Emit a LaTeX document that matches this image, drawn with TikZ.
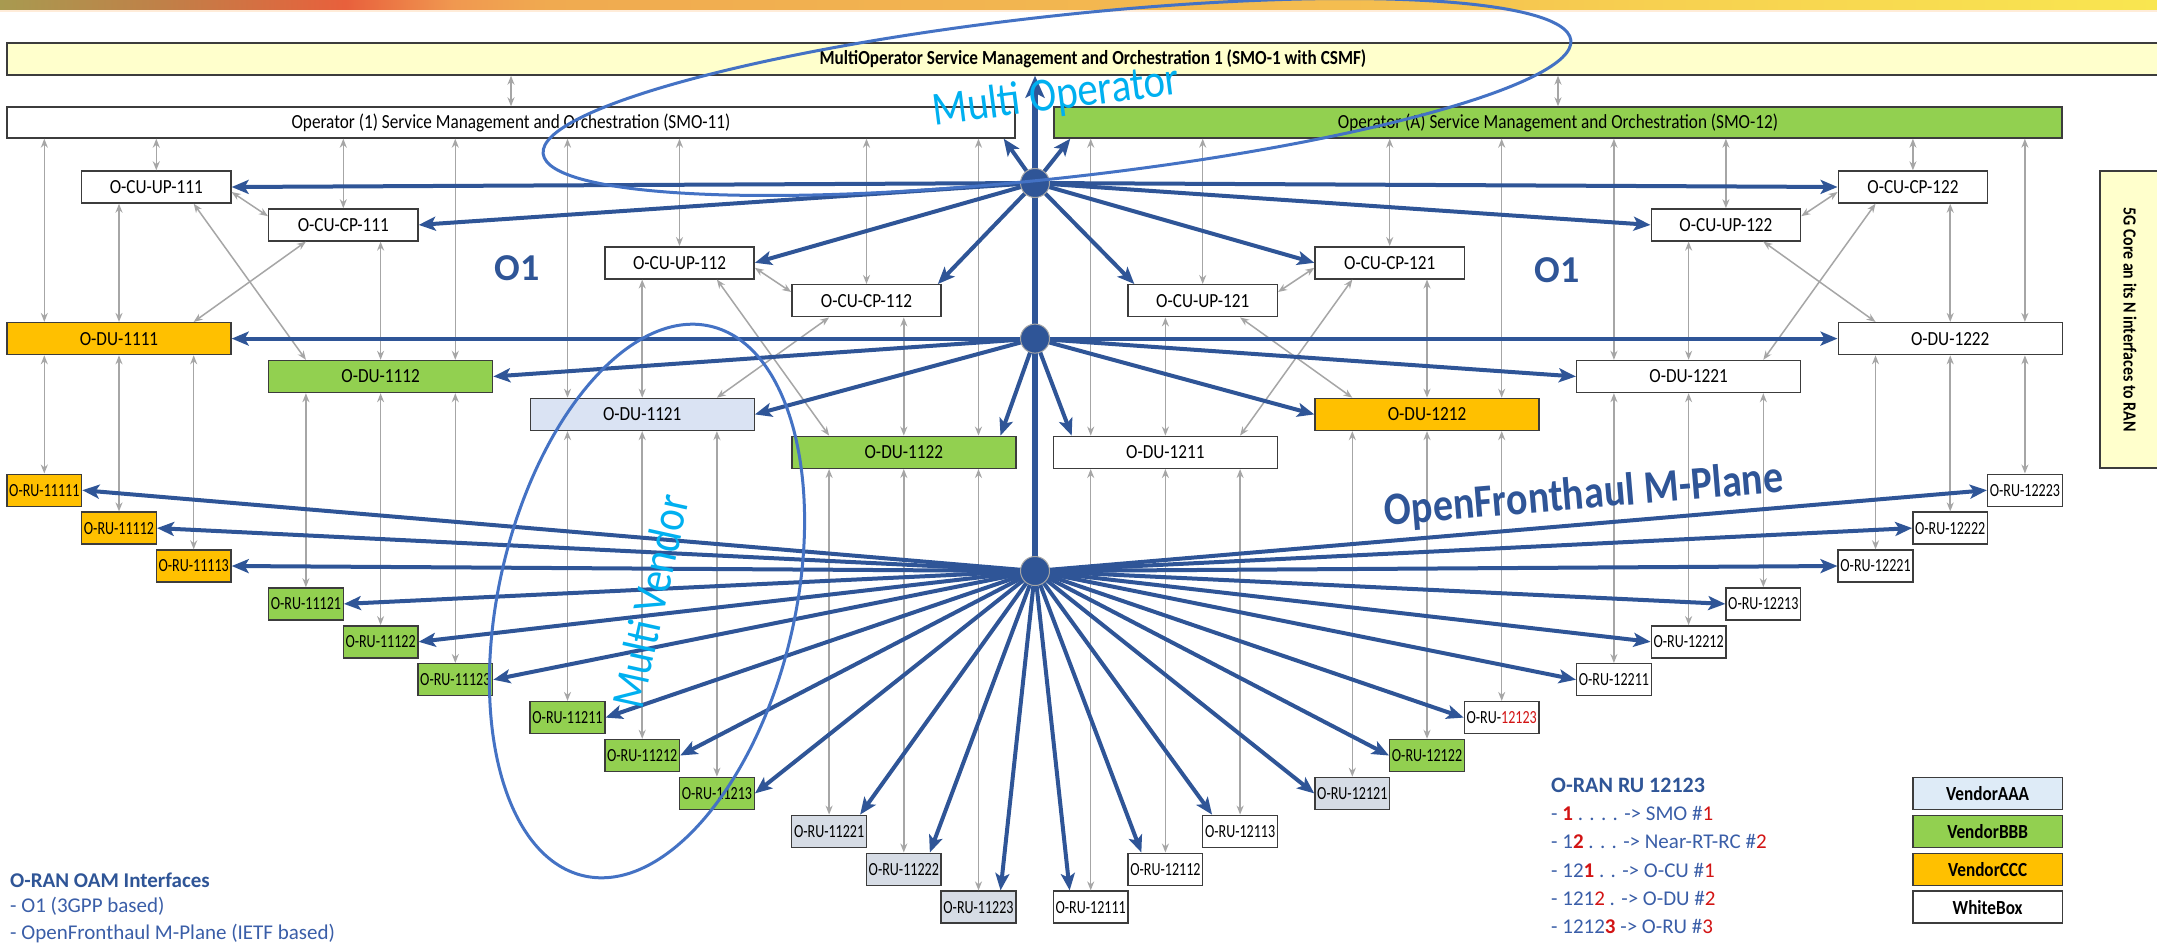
\documentclass[tikz,border=0pt]{standalone}
\usepackage{fontspec}
\setmainfont{Carlito}
\newfontfamily\cond{Carlito}[FakeStretch=0.86]
\newfontfamily\narrowf{Carlito}[FakeStretch=0.76]
\usetikzlibrary{arrows.meta,shapes.geometric}

\definecolor{oblue}{RGB}{47,85,151}
\definecolor{lblue}{RGB}{58,94,168}
\definecolor{eblue}{RGB}{68,114,196}
\definecolor{skyblue}{RGB}{0,176,240}
\definecolor{arrgray}{RGB}{166,166,166}
\definecolor{boxline}{RGB}{60,60,60}
\definecolor{vgreen}{RGB}{146,208,80}
\definecolor{vorange}{RGB}{255,192,0}
\definecolor{vlav}{RGB}{218,227,243}
\definecolor{vgray}{RGB}{214,220,229}
\definecolor{vaaa}{RGB}{222,235,247}
\definecolor{paleyellow}{RGB}{255,255,204}
\definecolor{vred}{RGB}{210,20,20}

\pgfdeclarehorizontalshading{topbar}{100bp}{%
  rgb(0bp)=(0.659,0.604,0.314);
  rgb(25bp)=(0.659,0.604,0.314);
  rgb(28.8bp)=(0.753,0.502,0.282);
  rgb(33bp)=(0.910,0.376,0.235);
  rgb(35.5bp)=(0.941,0.596,0.314);
  rgb(37.7bp)=(0.941,0.667,0.314);
  rgb(57bp)=(0.957,0.745,0.314);
  rgb(63.3bp)=(0.969,0.816,0.314);
  rgb(75bp)=(0.976,0.902,0.314);
  rgb(100bp)=(0.976,0.902,0.314)}

\tikzset{
  box/.style={draw=boxline, fill=white, line width=1.4pt, inner sep=0pt,
    minimum height=32pt, font=\cond\fontsize{20}{22}\selectfont},
  smobox/.style={box, minimum height=31pt},
  cubox/.style={box, minimum width=149.3pt},
  dubox/.style={box, minimum width=224pt},
  rubox/.style={box, minimum width=74.67pt, font=\narrowf\fontsize{18.5}{20}\selectfont},
  grayarr/.style={draw=arrgray, line width=1.5pt,
    {Stealth[length=9pt,width=7pt]}-{Stealth[length=9pt,width=7pt]}},
  bluearr/.style={draw=oblue, line width=4pt,
    -{Stealth[length=17pt,width=14pt,inset=4pt]}},
  trunk/.style={draw=oblue, line width=6.5pt,
    -{Stealth[length=22pt,width=19pt,inset=5pt]}},
  hub/.style={circle, fill=oblue, draw=gray!70, line width=1pt,
    minimum size=29pt, inner sep=0pt},
  bigell/.style={ellipse, draw=eblue, line width=3pt, inner sep=0pt},
  bigtext/.style={text=skyblue, inner sep=0pt, font=\cond\fontsize{47.5}{50}\selectfont},
  legtext/.style={anchor=base west, inner sep=0pt, text=lblue,
    font=\fontsize{21}{24}\selectfont},
  leghead/.style={anchor=base west, inner sep=0pt, text=oblue,
    font=\bfseries\fontsize{21}{24}\selectfont},
  vendorbox/.style={cubox, font=\cond\bfseries\fontsize{20}{22}\selectfont}
}
\newcommand{\rb}[1]{\textcolor{vred}{\bfseries #1}}
\newcommand{\rr}[1]{\textcolor{vred}{#1}}

\begin{document}
\begin{tikzpicture}[x=1pt,y=-1pt]
\useasboundingbox (0,0) rectangle (2157,945);
\fill[white] (0,0) rectangle (2157,945);

% header strip
\shade[shading=topbar] (0,0) rectangle (2157,10);
\fill[orange!15] (0,10) rectangle (2157,11.5);

% column centres of the radio units (group g, column c)
\foreach \g in {0,...,7}{
  \foreach \c in {0,1,2}{
    \coordinate (c\g\c) at ({7+261.6*\g+37.33+74.67*\c},0);
  }
}
\coordinate (h1) at (1035,183);
\coordinate (h2) at (1035,338.6);
\coordinate (h3) at (1035,571);

% management layers
\node[smobox, fill=paleyellow, minimum width=2172pt, minimum height=32pt,
  font=\cond\bfseries\fontsize{20}{22}\selectfont] (smo1) at (1093,59)
  {MultiOperator Service Management and Orchestration 1 (SMO-1 with CSMF)};
\node[smobox, minimum width=1008pt] (smo11) at (511,122.5)
  {Operator (1) Service Management and Orchestration (SMO-11)};
\node[smobox, fill=vgreen, minimum width=1008pt] (smo12) at (1558,122.5)
  {Operator (A) Service Management and Orchestration (SMO-12)};

% central units
\node[cubox] (cuup111) at (156.3,187)   {O-CU-UP-111};
\node[cubox] (cucp111) at (343.3,224.9) {O-CU-CP-111};
\node[cubox] (cuup112) at (679.5,262.8) {O-CU-UP-112};
\node[cubox] (cucp112) at (866.5,300.7) {O-CU-CP-112};
\node[cubox] (cucp122) at (1912.9,187)  {O-CU-CP-122};
\node[cubox] (cuup122) at (1725.9,224.9){O-CU-UP-122};
\node[cubox] (cucp121) at (1389.7,262.8){O-CU-CP-121};
\node[cubox] (cuup121) at (1202.7,300.7){O-CU-UP-121};

% distributed units
\node[dubox, fill=vorange] (du1111) at (119,338.6)   {O-DU-1111};
\node[dubox, fill=vgreen]  (du1112) at (380.6,376.5) {O-DU-1112};
\node[dubox, fill=vlav]    (du1121) at (642.2,414.4) {O-DU-1121};
\node[dubox, fill=vgreen]  (du1122) at (903.8,452.3) {O-DU-1122};
\node[dubox]               (du1211) at (1165.4,452.3){O-DU-1211};
\node[dubox, fill=vorange] (du1212) at (1427,414.4)  {O-DU-1212};
\node[dubox]               (du1221) at (1688.6,376.5){O-DU-1221};
\node[dubox]               (du1222) at (1950.2,338.6){O-DU-1222};

% radio units
\node[rubox, fill=vorange] (ru11111) at (44.3,490.2)  {O-RU-11111};
\node[rubox, fill=vorange] (ru11112) at (119.0,528.1) {O-RU-11112};
\node[rubox, fill=vorange] (ru11113) at (193.7,566)   {O-RU-11113};
\node[rubox, fill=vgreen]  (ru11121) at (305.9,603.9) {O-RU-11121};
\node[rubox, fill=vgreen]  (ru11122) at (380.6,641.8) {O-RU-11122};
\node[rubox, fill=vgreen]  (ru11123) at (455.3,679.7) {O-RU-11123};
\node[rubox, fill=vgreen]  (ru11211) at (567.5,717.6) {O-RU-11211};
\node[rubox, fill=vgreen]  (ru11212) at (642.2,755.5) {O-RU-11212};
\node[rubox, fill=vgreen]  (ru11213) at (716.9,793.4) {O-RU-11213};
\node[rubox, fill=vgray]   (ru11221) at (829.1,831.3) {O-RU-11221};
\node[rubox, fill=vgray]   (ru11222) at (903.8,869.2) {O-RU-11222};
\node[rubox, fill=vgray]   (ru11223) at (978.5,907.1) {O-RU-11223};
\node[rubox]               (ru12111) at (1090.7,907.1){O-RU-12111};
\node[rubox]               (ru12112) at (1165.4,869.2){O-RU-12112};
\node[rubox]               (ru12113) at (1240.1,831.3){O-RU-12113};
\node[rubox, fill=vgray]   (ru12121) at (1352.3,793.4){O-RU-12121};
\node[rubox, fill=vgreen]  (ru12122) at (1427,755.5)  {O-RU-12122};
\node[rubox]               (ru12123) at (1501.7,717.6){O-RU-\rr{12123}};
\node[rubox]               (ru12211) at (1613.9,679.7){O-RU-12211};
\node[rubox]               (ru12212) at (1688.6,641.8){O-RU-12212};
\node[rubox]               (ru12213) at (1763.3,603.9){O-RU-12213};
\node[rubox]               (ru12221) at (1875.5,566)  {O-RU-12221};
\node[rubox]               (ru12222) at (1950.2,528.1){O-RU-12222};
\node[rubox]               (ru12223) at (2024.9,490.2){O-RU-12223};

% core network side bar
\node[draw=boxline, fill=paleyellow, line width=1.4pt, rotate=-90,
  minimum width=297pt, minimum height=60pt, inner sep=0pt,
  font=\cond\bfseries\fontsize{18.5}{20}\selectfont] (core) at (2130,319.5)
  {5G Core an its N interfaces to RAN};

% vendor legend
\node[vendorbox, fill=vaaa]    (lgaaa) at (1987.6,793.4) {VendorAAA};
\node[vendorbox, fill=vgreen]  (lgbbb) at (1987.6,831.3) {VendorBBB};
\node[vendorbox, fill=vorange] (lgccc) at (1987.6,869.2) {VendorCCC};
\node[vendorbox]               (lgwb)  at (1987.6,907.1) {WhiteBox};

% O1 links: SMO -> CU / DU
\draw[grayarr] (smo1.south -| smo11.north) -- (smo11.north);
\draw[grayarr] (smo1.south -| smo12.north) -- (smo12.north);
\foreach \t/\col in {du1111/c00, du1112/c12, du1121/c20, du1122/c32}
  \draw[grayarr] (smo11.south -| \col) -- (\t.north -| \col);
\foreach \t/\col in {du1211/c40, du1212/c52, du1221/c60, du1222/c72}
  \draw[grayarr] (smo12.south -| \col) -- (\t.north -| \col);
\foreach \t in {cuup111, cucp111, cuup112, cucp112}
  \draw[grayarr] (smo11.south -| \t.north) -- (\t.north);
\foreach \t in {cuup121, cucp121, cuup122, cucp122}
  \draw[grayarr] (smo12.south -| \t.north) -- (\t.north);

% CU -> DU links
\foreach \s/\a/\t/\b in {
  cuup111/c01/du1111/c01, cuup111/c02/du1112/c10,
  cucp111/c10/du1111/c02, cucp111/c11/du1112/c11,
  cuup112/c21/du1121/c21, cuup112/c22/du1122/c30,
  cucp112/c30/du1121/c22, cucp112/c31/du1122/c31,
  cuup121/c41/du1211/c41, cuup121/c42/du1212/c50,
  cucp121/c50/du1211/c42, cucp121/c51/du1212/c51,
  cuup122/c61/du1221/c61, cuup122/c62/du1222/c70,
  cucp122/c70/du1221/c62, cucp122/c71/du1222/c71}
  \draw[grayarr] (\s.south -| \a) -- (\t.north -| \b);

% CU-UP <-> CU-CP
\draw[grayarr] ([yshift=-5pt]cuup111.east) -- ([yshift=-8pt]cucp111.north west);
\draw[grayarr] ([yshift=-5pt]cuup112.east) -- ([yshift=-8pt]cucp112.north west);
\draw[grayarr] ([yshift=-5pt]cucp122.west) -- ([yshift=-8pt]cuup122.north east);
\draw[grayarr] ([yshift=-5pt]cucp121.west) -- ([yshift=-8pt]cuup121.north east);

% DU -> RU links
\foreach \d/\r in {
  du1111/ru11111, du1111/ru11112, du1111/ru11113,
  du1112/ru11121, du1112/ru11122, du1112/ru11123,
  du1121/ru11211, du1121/ru11212, du1121/ru11213,
  du1122/ru11221, du1122/ru11222, du1122/ru11223,
  du1211/ru12111, du1211/ru12112, du1211/ru12113,
  du1212/ru12121, du1212/ru12122, du1212/ru12123,
  du1221/ru12211, du1221/ru12212, du1221/ru12213,
  du1222/ru12221, du1222/ru12222, du1222/ru12223}
  \draw[grayarr] (\d.south -| \r.north) -- (\r.north);

% labels under the lines
\node[text=oblue, font=\bfseries\fontsize{38}{40}\selectfont, inner sep=0pt]
  (o1left) at (517,268) {O1};
\node[text=oblue, font=\bfseries\fontsize{38}{40}\selectfont, inner sep=0pt]
  (o1right) at (1557,270) {O1};
\node[text=oblue, font=\cond\bfseries\fontsize{46.5}{50}\selectfont, inner sep=0pt,
  rotate=4.8] (ofh) at (1584,496) {OpenFronthaul M-Plane};

% O1 fan-out from the first hub
\foreach \t in {cuup111.east, cucp111.east, cuup112.east, cucp122.west,
  cuup122.west, cucp121.west}
  \draw[bluearr] (h1) -- (\t);
\draw[bluearr] (h1) -- ([xshift=-4pt]cucp112.north east);
\draw[bluearr] (h1) -- ([xshift=7pt]cuup121.north west);
\draw[bluearr] (h1) -- ([xshift=-12pt]smo11.south east);
\draw[bluearr] (h1) -- ([xshift=17pt]smo12.south west);

% O1 fan-out from the second hub
\foreach \t in {du1111.east, du1112.east, du1121.east, du1212.west,
  du1221.west, du1222.west}
  \draw[bluearr] (h2) -- (\t);
\draw[bluearr] (h2) -- ([xshift=-16pt]du1122.north east);
\draw[bluearr] (h2) -- ([xshift=19pt]du1211.north west);

% M-Plane fan-out from the third hub
\foreach \t in {ru11111.east, ru11112.east, ru11113.east, ru11121.east,
  ru11122.east, ru11123.east, ru11211.east, ru11212.east, ru11213.east,
  ru12121.west, ru12122.west, ru12123.west, ru12211.west, ru12212.west,
  ru12213.west, ru12221.west, ru12222.west, ru12223.west}
  \draw[bluearr] (h3) -- (\t);
\draw[bluearr] (h3) -- ([xshift=-7pt]ru11221.north east);
\draw[bluearr] (h3) -- ([xshift=-12pt]ru11222.north east);
\draw[bluearr] (h3) -- ([xshift=-16pt]ru11223.north east);
\draw[bluearr] (h3) -- ([xshift=17pt]ru12111.north west);
\draw[bluearr] (h3) -- ([xshift=14pt]ru12112.north west);
\draw[bluearr] (h3) -- ([xshift=10pt]ru12113.north west);

% trunk up to SMO-1
\draw[trunk] (h3) -- (h3 |- smo1.south);

% hubs
\node[hub] (hubA) at (h1) {};
\node[hub] (hubB) at (h2) {};
\node[hub] (hubC) at (h3) {};

% multi-operator / multi-vendor groupings
\node[bigtext, rotate=7.2] (motext) at (1056,97) {Multi Operator};
\node[bigell, minimum width=1034pt, minimum height=162pt, rotate=6.3]
  (moell) at (1057,97) {};
\node[bigtext, rotate=77.5] (mvtext) at (650,601) {Multi Vendor};
\node[bigell, minimum width=564pt, minimum height=296pt, rotate=77]
  (mvell) at (647,601) {};

% legend: OAM interfaces
\node[leghead] (oamhead) at (10,887) {O-RAN OAM Interfaces};
\node[legtext] (oam1) at (10,912) {- O1 (3GPP based)};
\node[legtext] (oam2) at (10,939) {- OpenFronthaul M-Plane (IETF based)};

% legend: RU numbering
\node[leghead, font=\bfseries\fontsize{22}{24}\selectfont] (ruhead) at (1551,792) {O-RAN RU 12123};
\node[legtext] (ru1) at (1551,820) {- \rb{1} . . . . -> SMO \#\rr{1}};
\node[legtext] (ru2) at (1551,848) {- 1\rb{2} . . . -> Near-RT-RC \#\rr{2}};
\node[legtext] (ru3) at (1551,877) {- 12\rb{1} . . -> O-CU \#\rr{1}};
\node[legtext] (ru4) at (1551,905) {- 121\rr{2} . -> O-DU \#\rr{2}};
\node[legtext] (ru5) at (1551,933) {- 1212\rb{3} -> O-RU \#\rr{3}};
\end{tikzpicture}
\end{document}
